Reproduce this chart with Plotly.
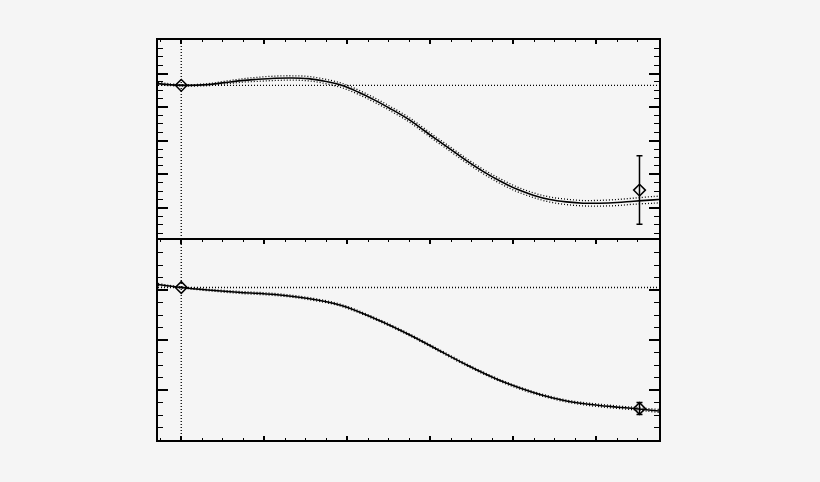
"""Two-panel curve plot with error envelope and anchor points."""

import plotly.graph_objects as go
from plotly.subplots import make_subplots

# top panel curve
top_x = [-0.28, 0.0, 0.32, 0.52, 0.72, 0.92, 1.13, 1.33, 1.53, 1.73, 1.93, 2.13,
         2.33, 2.53, 2.73, 2.84, 3.04, 3.24, 3.44, 3.64, 3.84, 4.04, 4.24, 4.44,
         4.64, 4.84, 5.04, 5.25, 5.45, 5.69, 5.755]
top_y = [4.70, 4.65, 4.67, 4.73, 4.79, 4.83, 4.86, 4.87, 4.85, 4.77, 4.65, 4.45,
         4.21, 3.94, 3.65, 3.46, 3.10, 2.75, 2.40, 2.08, 1.80, 1.56, 1.38, 1.25,
         1.18, 1.14, 1.14, 1.16, 1.20, 1.24, 1.25]
top_sig = [0.04, 0.02, 0.03, 0.04, 0.05, 0.06, 0.065, 0.065, 0.065, 0.065, 0.065,
           0.065, 0.065, 0.065, 0.065, 0.065, 0.065, 0.065, 0.065, 0.065, 0.07,
           0.07, 0.07, 0.075, 0.08, 0.08, 0.085, 0.09, 0.09, 0.1, 0.1]

# bottom panel curve
bot_x = [-0.28, 0.0, 0.32, 0.72, 1.13, 1.53, 1.93, 2.33, 2.73, 3.04, 3.44, 3.84,
         4.24, 4.64, 5.04, 5.45, 5.755]
bot_y = [3.11, 3.05, 3.00, 2.95, 2.91, 2.83, 2.69, 2.43, 2.12, 1.85, 1.50, 1.19,
         0.95, 0.78, 0.69, 0.63, 0.58]
bot_sig = [0.02, 0.01, 0.015, 0.02, 0.02, 0.02, 0.02, 0.02, 0.02, 0.02, 0.02,
           0.02, 0.02, 0.02, 0.025, 0.025, 0.03]

# measured points
pts_x = [0.0, 5.52]
top_pts_y = [4.65, 1.53]
top_pts_err = [0.0, 1.02]
bot_pts_y = [3.05, 0.63]
bot_pts_err = [0.0, 0.12]

# reference levels
x_ref = 0.0
top_ref = 4.65
bot_ref = 3.05

BG = '#f5f5f5'
DOT = '1px,2px'

fig = make_subplots(rows=2, cols=1, shared_xaxes=True, vertical_spacing=0)


def add_panel(row, xs, ys, sig, py, perr):
    upper = [y + s for y, s in zip(ys, sig)]
    lower = [y - s for y, s in zip(ys, sig)]
    for band in (upper, lower):
        fig.add_trace(go.Scatter(x=xs, y=band, mode='lines',
                                 line=dict(color='black', width=1.3, dash=DOT, shape='spline'),
                                 showlegend=False, hoverinfo='skip'), row=row, col=1)
    fig.add_trace(go.Scatter(x=xs, y=ys, mode='lines',
                             line=dict(color='black', width=1.6, shape='spline'),
                             showlegend=False), row=row, col=1)
    fig.add_trace(go.Scatter(x=pts_x, y=py, mode='markers',
                             marker=dict(symbol='diamond-open', size=9, color='black',
                                         line=dict(width=1.5, color='black')),
                             error_y=dict(type='data', array=perr, visible=True,
                                          color='black', thickness=1.5, width=3),
                             showlegend=False), row=row, col=1)


add_panel(1, top_x, top_y, top_sig, top_pts_y, top_pts_err)
add_panel(2, bot_x, bot_y, bot_sig, bot_pts_y, bot_pts_err)

fig.add_hline(y=top_ref, line=dict(color='black', width=1.3, dash=DOT), row=1, col=1)
fig.add_hline(y=bot_ref, line=dict(color='black', width=1.3, dash=DOT), row=2, col=1)
fig.add_shape(type='line', xref='x', yref='paper', x0=x_ref, x1=x_ref, y0=0, y1=1,
              line=dict(color='black', width=1.3, dash=DOT))

fig.update_xaxes(range=[-0.28, 5.755], dtick=1, tick0=0, ticks='inside', ticklen=4,
                 tickwidth=1.5, tickcolor='black', showticklabels=False,
                 showline=True, linecolor='black', linewidth=1.5, mirror='ticks',
                 showgrid=False, zeroline=False,
                 minor=dict(dtick=0.25, ticks='inside', ticklen=2, tickcolor='black',
                            tickwidth=1, showgrid=False))

yaxis_common = dict(ticks='inside', ticklen=10, tickwidth=1.5, tickcolor='black',
                    showticklabels=False, showline=True, linecolor='black',
                    linewidth=1.5, mirror='ticks', showgrid=False, zeroline=False,
                    dtick=1, tick0=0,
                    minor=dict(dtick=0.25, ticks='inside', ticklen=5, tickcolor='black',
                               tickwidth=1, showgrid=False))
fig.update_yaxes(range=[0, 6], row=1, col=1, **yaxis_common)
fig.update_yaxes(range=[0, 4], row=2, col=1, **yaxis_common)

# let the two panels share one frame line in the middle
fig.update_layout(yaxis=dict(domain=[0.5 - 1.5 / 400, 1]),
                  yaxis2=dict(domain=[0, 0.5]))

fig.update_layout(width=820, height=482, paper_bgcolor=BG, plot_bgcolor=BG,
                  margin=dict(l=158, r=161, t=40, b=42), showlegend=False)

fig.write_html("out.html", config={'displayModeBar': False},
               post_script="document.body.style.margin='0';"
                           "document.body.style.background='%s';" % BG)
